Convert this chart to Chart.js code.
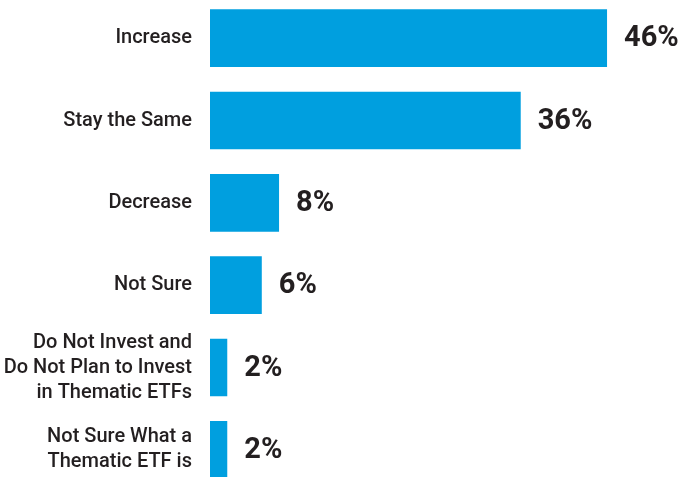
<!DOCTYPE html>
<html>
<head>
<meta charset="utf-8">
<script src="https://cdn.jsdelivr.net/npm/chart.js@4"></script>
<style>
  html, body { margin: 0; padding: 0; background: #fff; overflow: hidden; }
  #wrap { position: absolute; left: 0; top: -3px; width: 683px; height: 494px; }
</style>
</head>
<body>
<div id="wrap"><canvas id="thematicChart"></canvas></div>
<script>
const categories = [
    'Increase',
    'Stay the Same',
    'Decrease',
    'Not Sure',
    ['Do Not Invest and', 'Do Not Plan to Invest', 'in Thematic ETFs'],
    ['Not Sure What a', 'Thematic ETF is']
];
const shares = [46, 36, 8, 6, 2, 2];
const valueLabels = ['46%', '36%', '8%', '6%', '2%', '2%'];

const barColor = '#009FDF';
const textColor = '#231f20';

// draws the percent next to each bar end
const valueLabelPlugin = {
    id: 'valueLabels',
    afterDatasetsDraw(chart) {
        const ctx = chart.ctx;
        const meta = chart.getDatasetMeta(0);
        ctx.save();
        ctx.font = 'bold 29px Roboto';
        ctx.fillStyle = textColor;
        ctx.textAlign = 'left';
        ctx.textBaseline = 'middle';
        meta.data.forEach((bar, i) => {
            ctx.fillText(valueLabels[i], bar.x + 17, bar.y + 1);
        });
        ctx.restore();
    }
};

const ctx = document.getElementById('thematicChart').getContext('2d');
const thematicChart = new Chart(ctx, {
    type: 'bar',
    data: {
        labels: categories,
        datasets: [{
            data: shares,
            backgroundColor: barColor,
            borderWidth: 0,
            barPercentage: 0.7,
            categoryPercentage: 1
        }]
    },
    options: {
        indexAxis: 'y',
        responsive: true,
        maintainAspectRatio: false,
        animation: false,
        layout: { padding: 0 },
        plugins: {
            legend: { display: false },
            tooltip: { enabled: false }
        },
        scales: {
            x: {
                display: false,
                min: 0,
                max: 54.8
            },
            y: {
                grid: { display: false, drawTicks: false },
                border: { display: false },
                ticks: {
                    color: textColor,
                    padding: 18,
                    font: { family: 'Roboto', size: 20, weight: 500, lineHeight: 1.25 }
                },
                afterFit(scale) {
                    scale.width = 210;
                    scale.paddingTop = 0;
                    scale.paddingBottom = 0;
                }
            }
        }
    },
    plugins: [valueLabelPlugin]
});
</script>
</body>
</html>
